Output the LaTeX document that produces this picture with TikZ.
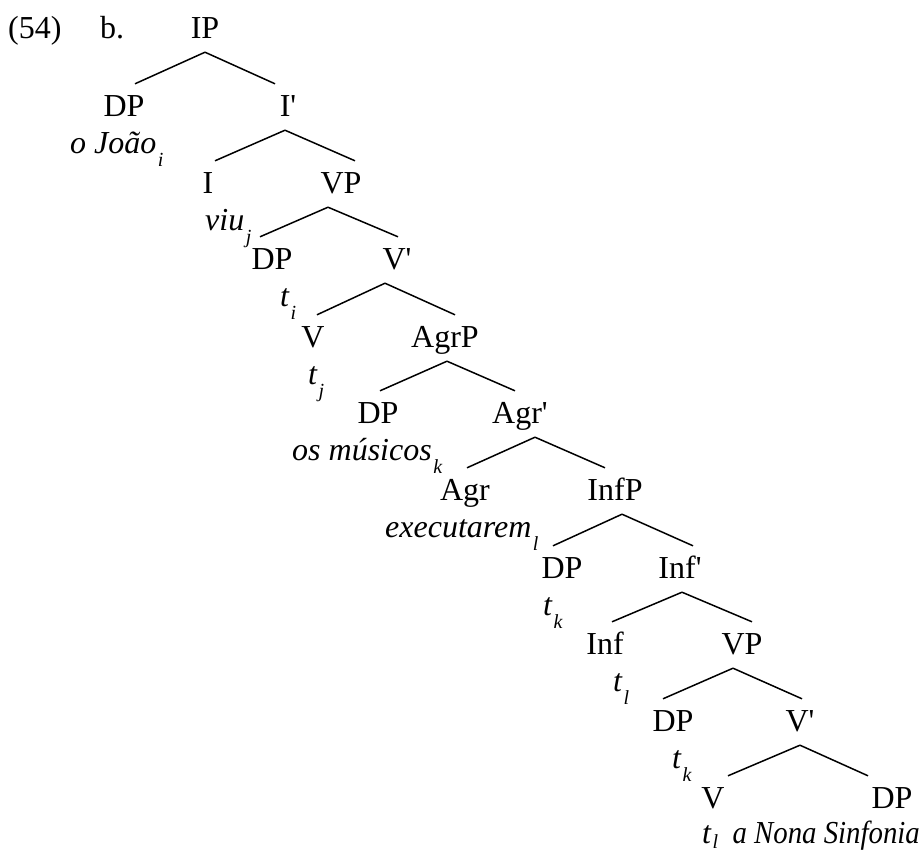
\documentclass[tikz,border=0pt]{standalone}
\usepackage{fontspec}
\setmainfont{Liberation Serif}
\usetikzlibrary{calc}
\newcommand{\coidx}[2][13pt]{\kern1.5pt\raisebox{-#1}{\fontsize{20}{20}\selectfont\itshape #2}}
\tikzset{
  cat/.style={anchor=base, text height=32pt, text depth=14pt, inner sep=0pt},
  ann/.style={anchor=base west, inner sep=0pt, font=\fontsize{32}{38}\selectfont\itshape},
}
\begin{document}
\begin{tikzpicture}[x=1pt, y=-1pt, every node/.style={font=\fontsize{32}{38}\selectfont}]
\useasboundingbox (0,0) rectangle (922,855);
\node[anchor=base west, inner sep=0pt] (num) at (8,38) {(54)};
\node[anchor=base west, inner sep=0pt] (sub) at (100,38) {b.};
% categories
\node[cat] (ip) at (205,38) {IP};
\node[cat] (dpa) at (124,116) {DP};
\node[cat] (ibar) at (288,116) {I\textquotesingle};
\node[cat] (i) at (208,193) {I};
\node[cat] (vpa) at (341,193) {VP};
\node[cat] (dpb) at (272,269) {DP};
\node[cat] (vbara) at (397,269) {V\textquotesingle};
\node[cat] (va) at (313,347) {V};
\node[cat] (agrp) at (445,347) {AgrP};
\node[cat] (dpc) at (378,423) {DP};
\node[cat] (agrbar) at (520,423) {Agr\textquotesingle};
\node[cat] (agr) at (465,500) {Agr};
\node[cat] (infp) at (615,500) {InfP};
\node[cat] (dpd) at (562,578) {DP};
\node[cat] (infbar) at (680,578) {Inf\textquotesingle};
\node[cat] (inf) at (605,654) {Inf};
\node[cat] (vpb) at (742,654) {VP};
\node[cat] (dpe) at (673,731) {DP};
\node[cat] (vbarb) at (800,731) {V\textquotesingle};
\node[cat] (vb) at (713,808) {V};
\node[cat] (dpf) at (892,808) {DP};
% words and traces
\node[ann] (joao) at (70,153) {o João\coidx{i}};
\node[ann] (viu) at (205,230) {viu\coidx{j}};
\node[ann] (ti) at (280,306) {t\coidx{i}};
\node[ann] (tj) at (308,384) {t\coidx{j}};
\node[ann] (musicos) at (292,460) {os músicos\coidx{k}};
\node[ann] (exec) at (385,537) {executarem\coidx{l}};
\node[ann] (tka) at (543,615) {t\coidx{k}};
\node[ann] (tla) at (613,691) {t\coidx{l}};
\node[ann] (tkb) at (672,768) {t\coidx{k}};
\node[ann] (tlb) at (702,843) {t\coidx[5pt]{l}};
\node[ann, anchor=base east] (nona) at (920,843) {\scalebox{0.9}[1]{a Nona Sinfonia}};
% branches
\foreach \nodeP/\shP/\nodeL/\shL/\nodeR/\shR in {ip/0/dpa/11/ibar/-13, ibar/-3/i/7/vpa/14,
  vpa/-13/dpb/-12/vbara/1, vbara/-12/va/4/agrp/10, agrp/2/dpc/2/agrbar/-5,
  agrbar/15/agr/2/infp/-10, infp/7/dpd/-9/infbar/13, infbar/2/inf/7/vpb/10,
  vpb/-9/dpe/-10/vbarb/2, vbarb/0/vb/15/dpf/-24} {
  \draw[line width=1.5pt] ([xshift=\shP pt]\nodeP.south) -- ([xshift=\shL pt]\nodeL.north);
  \draw[line width=1.5pt] ([xshift=\shP pt]\nodeP.south) -- ([xshift=\shR pt]\nodeR.north);
}
\end{tikzpicture}
\end{document}
